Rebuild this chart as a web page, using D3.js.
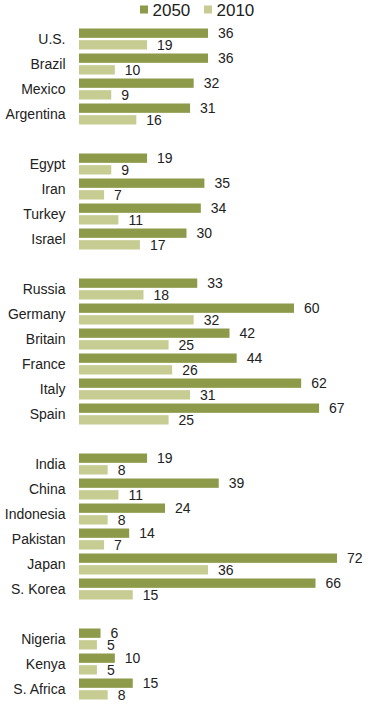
<!DOCTYPE html>
<html><head><meta charset="utf-8">
<script src="https://cdn.jsdelivr.net/npm/d3@7"></script>
<style>body{margin:0;background:#fff}svg{display:block}text{font-family:"Liberation Sans",Arial,sans-serif;fill:#222}</style>
</head><body>
<svg id="c" width="370" height="706"></svg>
<script>
const countries = ["U.S.","Brazil","Mexico","Argentina",null,"Egypt","Iran","Turkey","Israel",null,"Russia","Germany","Britain","France","Italy","Spain",null,"India","China","Indonesia","Pakistan","Japan","S. Korea",null,"Nigeria","Kenya","S. Africa"];
const values2050 = [36,36,32,31,null,19,35,34,30,null,33,60,42,44,62,67,null,19,39,24,14,72,66,null,6,10,15];
const values2010 = [19,10,9,16,null,9,7,11,17,null,18,32,25,26,31,25,null,8,11,8,7,36,15,null,5,5,8];
const seriesNames = ["2050","2010"];
const colors = {"2050":"#8c9a4a","2010":"#c6cc92"};

const svg = d3.select("#c");
const rows = countries.map((c,i)=>({id:i,name:c,"2050":values2050[i],"2010":values2010[i]}));
const y = d3.scaleBand().domain(rows.map(r=>r.id)).range([26.5, 26.5+25*rows.length]).padding(0);
const ys = d3.scaleBand().domain(seriesNames).range([2,23]).paddingInner(0.2);
const x = d3.scaleLinear().domain([0,72]).range([79,337]);

const data = rows.filter(r=>r.name);
const g = svg.append("g");
const row = g.selectAll("g.row").data(data).enter().append("g").attr("transform",d=>`translate(0,${y(d.id)})`);
row.append("text").attr("x",65.5).attr("y",ys("2050")+ys.bandwidth()+1+5).attr("text-anchor","end")
  .attr("font-size",14).text(d=>d.name);
seriesNames.forEach(s=>{
  row.append("rect").attr("x",x(0)).attr("y",ys(s)).attr("width",d=>x(d[s])-x(0)).attr("height",ys.bandwidth()).attr("fill",colors[s]);
  row.append("text").attr("x",d=>x(d[s])+10).attr("y",ys(s)+ys.bandwidth()/2).attr("dy","0.36em")
    .attr("font-size",14).text(d=>d[s]);
});

// legend
const lg = svg.append("g");
const lx = [140,204];
seriesNames.forEach((s,i)=>{
  lg.append("rect").attr("x",lx[i]).attr("y",5.5).attr("width",8).attr("height",8).attr("fill",colors[s]);
  lg.append("text").attr("x",lx[i]+12.5).attr("y",15.5).attr("font-size",17).text(s);
});
</script>
</body></html>
